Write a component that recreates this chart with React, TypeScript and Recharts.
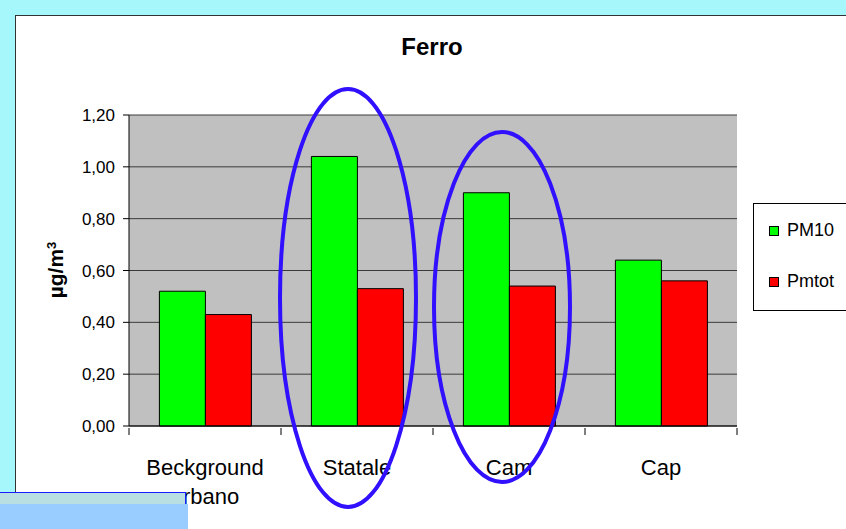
import React from "react";
import { BarChart, Bar, XAxis, YAxis, CartesianGrid } from "recharts";

const categories = ["Beckground\nurbano", "Statale", "Cam", "Cap"];
const pm10 = [0.52, 1.04, 0.9, 0.64];
const pmtot = [0.43, 0.53, 0.54, 0.56];
const yTicks = [0, 0.2, 0.4, 0.6, 0.8, 1.0, 1.2];
const seriesNames = ["PM10", "Pmtot"];
const seriesColors = ["#00ff00", "#ff0000"];

const data = categories.map((name, i) => ({ name, pm10: pm10[i], pmtot: pmtot[i] }));

const FONT = "'Liberation Sans', Arial, sans-serif";

// category label plus the tick marks on the category boundaries
function CatTick(props: any) {
  const { x, y, payload, index, width } = props;
  const half = width / categories.length / 2;
  const lines = String(payload.value).split("\n");
  return (
    <g>
      <line x1={x - half} x2={x - half} y1={y} y2={y + 7} stroke="#000" />
      {index === categories.length - 1 && <line x1={x + half} x2={x + half} y1={y} y2={y + 7} stroke="#000" />}
      <text x={x} y={y} textAnchor="middle" fontFamily={FONT} fontSize={22} fill="#000">
        {lines.map((l: string, i: number) => (
          <tspan key={i} x={x} dy={i === 0 ? 47 : 29}>
            {l}
          </tspan>
        ))}
      </text>
    </g>
  );
}

function YLabel() {
  return (
    <text
      x={0}
      y={0}
      transform="translate(63,270) rotate(-90)"
      textAnchor="middle"
      fontFamily={FONT}
      fontWeight="bold"
      fontSize={21}
      fill="#000"
    >
      µg/m
      <tspan fontSize={13} dy={-7}>3</tspan>
    </text>
  );
}

export default function App() {
  return (
    <div style={{ position: "fixed", left: 0, top: 0, width: 846, height: 529, overflow: "hidden", background: "#a6f7fb" }}>
      <div
        style={{
          position: "absolute",
          left: 15,
          top: 15,
          width: 846,
          height: 529,
          background: "#fff",
          borderLeft: "1px solid #333",
          borderTop: "1px solid #333",
        }}
      />
      <div style={{ position: "absolute", left: 15, top: 15 }}>
        <BarChart
          width={831}
          height={514}
          data={data}
          margin={{ top: 100, right: 109, left: 54, bottom: 43 }}
          barCategoryGap="20%"
          barGap={0}
        >
          <CartesianGrid
            xAxisId="cat"
            yAxisId="left"
            vertical={false}
            fill="#c0c0c0"
            stroke="#3a3a3a"
            strokeWidth={1}
          />
          <XAxis
            xAxisId="cat"
            dataKey="name"
            height={60}
            interval={0}
            axisLine={{ stroke: "#000" }}
            tickLine={false}
            tickSize={0}
            tick={<CatTick />}
          />
          <YAxis
            yAxisId="left"
            domain={[0, 1.2]}
            ticks={yTicks}
            width={60}
            interval={0}
            axisLine={{ stroke: "#000" }}
            tickLine={{ stroke: "#000" }}
            tickSize={6}
            tickMargin={8}
            tick={{ fontFamily: FONT, fontSize: 17, fill: "#000" }}
            tickFormatter={(v: number) => v.toFixed(2).replace(".", ",")}
          />
          <YAxis
            yAxisId="right"
            orientation="right"
            domain={[0, 1.2]}
            width={0}
            tick={false}
            tickLine={false}
            axisLine={{ stroke: "#808080" }}
          />
          <Bar xAxisId="cat" yAxisId="left" dataKey="pm10" name={seriesNames[0]} fill={seriesColors[0]} stroke="#000" strokeWidth={1} isAnimationActive={false} />
          <Bar xAxisId="cat" yAxisId="left" dataKey="pmtot" name={seriesNames[1]} fill={seriesColors[1]} stroke="#000" strokeWidth={1} isAnimationActive={false} />
        </BarChart>
      </div>

      <svg width={846} height={529} style={{ position: "absolute", left: 0, top: 0, pointerEvents: "none" }}>
        <text x={432} y={55} textAnchor="middle" fontFamily={FONT} fontWeight="bold" fontSize={24} fill="#000">
          Ferro
        </text>
        <YLabel />
        <ellipse cx={348} cy={298} rx={68} ry={209} fill="none" stroke="#3010ff" strokeWidth={4} />
        <ellipse cx={502} cy={307} rx={68} ry={175} fill="none" stroke="#3010ff" strokeWidth={4} />
      </svg>

      <div
        style={{
          position: "absolute",
          left: 753,
          top: 203,
          width: 120,
          height: 106,
          border: "1px solid #000",
          background: "#fff",
          fontFamily: FONT,
          fontSize: 18,
        }}
      >
        {seriesNames.map((n, i) => (
          <div key={n} style={{ position: "absolute", left: 15, top: 16 + i * 51, display: "flex", alignItems: "center", whiteSpace: "nowrap" }}>
            <span style={{ display: "inline-block", width: 8, height: 8, background: seriesColors[i], border: "1px solid #000", marginRight: 8 }} />
            <span>{n}</span>
          </div>
        ))}
      </div>

      <div style={{ position: "absolute", left: 0, top: 492, width: 185, height: 11, background: "#b9dfe2", borderTop: "1px solid #1a1aff", borderRight: "1px solid #1a1aff" }} />
      <div style={{ position: "absolute", left: 0, top: 504, width: 188, height: 25, background: "#99ccff" }} />
    </div>
  );
}
